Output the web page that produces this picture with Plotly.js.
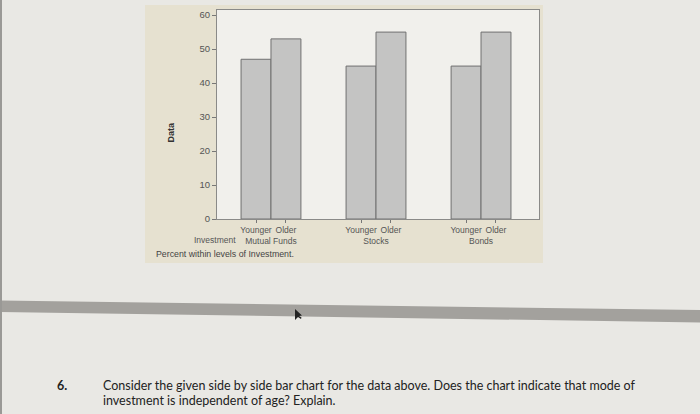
<!DOCTYPE html>
<html>
<head>
<meta charset="utf-8">
<script src="https://cdn.plot.ly/plotly-3.0.1.min.js"></script>
<style>
  html, body { margin: 0; padding: 0; background: #e9e8e4; }
  #chart { width: 700px; height: 414px; }
</style>
</head>
<body>
<div id="chart"></div>
<script>
// ---- data (percent within levels of Investment) ----
const investments = ["Mutual Funds", "Stocks", "Bonds"];
const ageGroups = ["Younger", "Older"];
const younger = [47, 45, 45];
const older = [53, 55, 55];
const yTicks = [0, 10, 20, 30, 40, 50, 60];

const W = 700, H = 414;
const px = v => v / W;
const py = v => 1 - v / H;

const bargap = 0.43;
const off = (1 - bargap) / 4;           // half a bar, in category units
const xRange = [-0.514, 2.552];

// tick labels under each bar (from the data arrays)
const barTickVals = [], barTickText = [];
investments.forEach((inv, i) => {
  ageGroups.forEach((ag, j) => {
    barTickVals.push(i + (j === 0 ? -off : off));
    barTickText.push(ag);
  });
});

const barStyle = { color: "#c4c4c3", line: { color: "#707070", width: 1 } };

const traces = [
  { type: "bar", name: ageGroups[0], x: investments, y: younger, marker: barStyle, hoverinfo: "x+y" },
  { type: "bar", name: ageGroups[1], x: investments, y: older, marker: barStyle, hoverinfo: "x+y" },
  // empty trace so that the overlaid bar-label axis is drawn
  { type: "scatter", mode: "markers", x: [], y: [], xaxis: "x2", yaxis: "y", hoverinfo: "skip" }
];

const labelFont = { family: "Liberation Sans, Arial, sans-serif", size: 8.5, color: "#555" };
const qFont = { family: "Lato, Open Sans, sans-serif", size: 12.5, color: "#222" };

const layout = {
  width: W, height: H,
  margin: { l: 0, r: 0, t: 0, b: 0 },
  paper_bgcolor: "#e9e8e4",
  plot_bgcolor: "rgba(0,0,0,0)",
  showlegend: false,
  barmode: "group",
  bargap: bargap,
  bargroupgap: 0,
  xaxis: {
    type: "category",
    domain: [px(217), px(539)],
    range: xRange,
    showline: true, mirror: true, linecolor: "#8a8a88", linewidth: 1,
    ticks: "", showgrid: false, zeroline: false,
    tickfont: labelFont,
    ticklabelstandoff: 14,
    fixedrange: true
  },
  xaxis2: {
    type: "linear",
    overlaying: "x",
    anchor: "y",
    side: "bottom",
    range: xRange,
    tickmode: "array",
    tickvals: barTickVals,
    ticktext: barTickText,
    ticks: "outside", ticklen: 3, tickcolor: "#777",
    tickfont: labelFont,
    showline: false, showgrid: false, zeroline: false,
    fixedrange: true
  },
  yaxis: {
    domain: [py(219), py(10)],
    range: [0, 61.5],
    tickmode: "array",
    tickvals: yTicks,
    ticks: "outside", ticklen: 4, tickcolor: "#777",
    tickfont: { family: "Liberation Sans, Arial, sans-serif", size: 9.5, color: "#555" },
    showline: true, mirror: true, linecolor: "#8a8a88", linewidth: 1,
    showgrid: false, zeroline: false,
    fixedrange: true
  },
  shapes: [
    // beige Minitab graph panel
    { type: "rect", xref: "paper", yref: "paper", x0: px(145), x1: px(543), y0: py(263), y1: py(5),
      fillcolor: "#e6e1d0", line: { width: 0 }, layer: "below" },
    // plot area
    { type: "rect", xref: "x domain", yref: "y domain", x0: 0, x1: 1, y0: 0, y1: 1,
      fillcolor: "#f1f0ec", line: { width: 0 }, layer: "below" },
    // grey band across the page
    { type: "path", xref: "paper", yref: "paper",
      path: `M 0 ${py(300.5)} L 1 ${py(310)} L 1 ${py(322.5)} L 0 ${py(312)} Z`,
      fillcolor: "#a3a19d", line: { width: 0 }, layer: "below" },
    // left screen edge
    { type: "rect", xref: "paper", yref: "paper", x0: 0, x1: px(2), y0: 0, y1: 1,
      fillcolor: "#9a9996", line: { width: 0 }, layer: "below" },
    // mouse cursor
    { type: "path", xref: "paper", yref: "paper",
      path: `M ${px(295)} ${py(309)} L ${px(295)} ${py(320)} L ${px(298)} ${py(317)} L ${px(301)} ${py(319)} L ${px(301.5)} ${py(317.5)} L ${px(299)} ${py(316)} L ${px(302)} ${py(315.5)} Z`,
      fillcolor: "#222", line: { width: 0 }, layer: "above" }
  ],
  annotations: [
    { xref: "paper", yref: "paper", x: px(163), y: py(120), text: "<b>Data</b>", textangle: -90,
      showarrow: false, font: { family: "Liberation Sans, Arial, sans-serif", size: 9, color: "#333" } },
    { xref: "paper", yref: "paper", x: px(192), y: py(240), text: "Investment",
      showarrow: false, font: labelFont },
    { xref: "paper", yref: "paper", x: px(154), y: py(254), xanchor: "left", text: "Percent within levels of Investment.",
      showarrow: false, font: { family: "Liberation Sans, Arial, sans-serif", size: 8.8, color: "#444" } },
    { xref: "paper", yref: "paper", x: px(55), y: py(395), xanchor: "left", text: "<b>6.</b>",
      showarrow: false, font: qFont },
    { xref: "paper", yref: "paper", x: px(101), y: py(395), xanchor: "left",
      text: "Consider the given side by side bar chart for the data above. Does the chart indicate that mode of",
      showarrow: false, font: qFont },
    { xref: "paper", yref: "paper", x: px(101), y: py(410), xanchor: "left",
      text: "investment is independent of age? Explain.",
      showarrow: false, font: qFont }
  ]
};

Plotly.newPlot("chart", traces, layout, { displayModeBar: false, staticPlot: true });
</script>
</body>
</html>
